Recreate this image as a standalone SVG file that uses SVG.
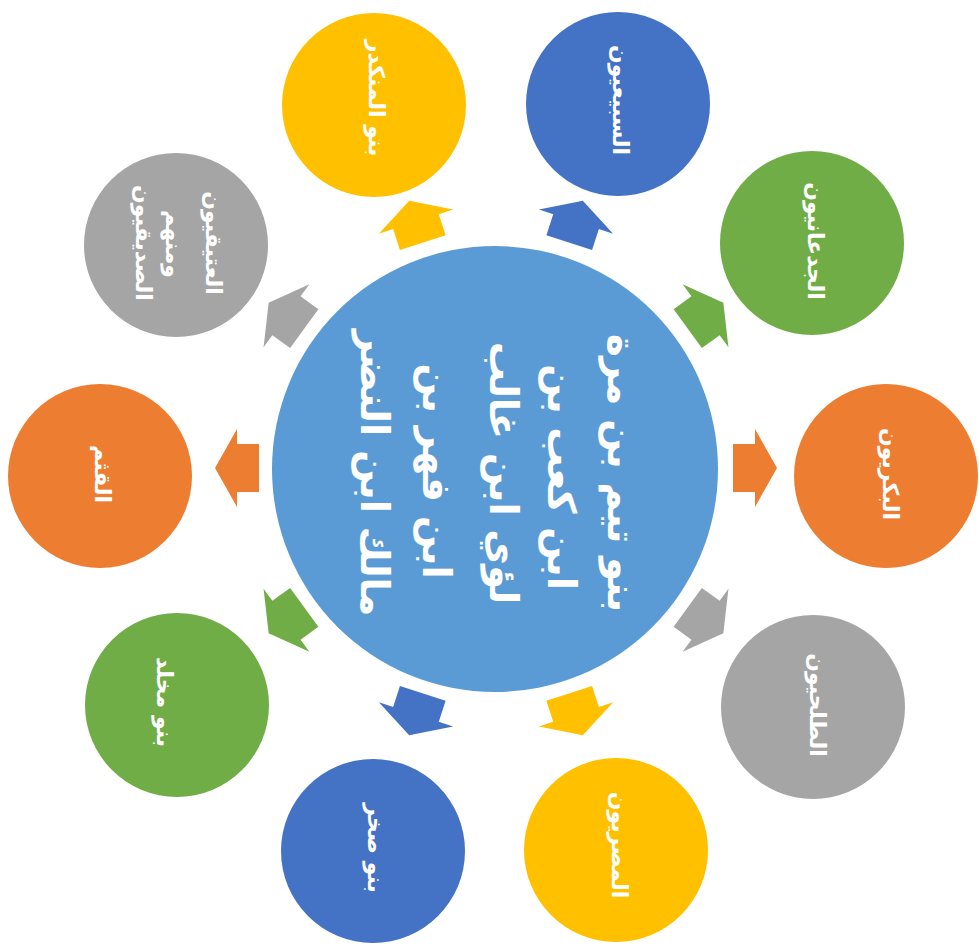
<svg xmlns="http://www.w3.org/2000/svg" width="979" height="946" viewBox="0 0 979 946">
<defs>
<style>
.t{font-family:"DejaVu Sans","Noto Sans",sans-serif;fill:#fff;text-anchor:middle;font-weight:bold}
.s{font-size:22px}
.c{font-size:39px}
.yel{fill:#FFC000}.blu{fill:#4472C4}.grn{fill:#70AD47}.org{fill:#ED7D31}.gry{fill:#A5A5A5}
</style>
<path id="arr" d="M237,-24 L259,-24 L259,-39 L281,0 L259,39 L259,24 L237,24 Z"/>
</defs>
<rect width="979" height="946" fill="#fff"/>
<g id="connectors">
<use href="#arr" class="org" transform="translate(496,468) rotate(0)"/>
<use href="#arr" class="gry" transform="translate(496,468) rotate(36)"/>
<use href="#arr" class="yel" transform="translate(496,468) rotate(72)"/>
<use href="#arr" class="blu" transform="translate(496,468) rotate(108)"/>
<use href="#arr" class="grn" transform="translate(496,468) rotate(144)"/>
<use href="#arr" class="org" transform="translate(496,468) rotate(180)"/>
<use href="#arr" class="gry" transform="translate(496,468) rotate(216)"/>
<use href="#arr" class="yel" transform="translate(496,468) rotate(252)"/>
<use href="#arr" class="blu" transform="translate(496,468) rotate(288)"/>
<use href="#arr" class="grn" transform="translate(496,468) rotate(324)"/>
</g>
<g id="center">
<circle cx="495" cy="469" r="223" fill="#5B9BD5"/>
<text class="t c" transform="translate(620,473) rotate(90)" dy="0.3em">بنو تيم بن مرة</text>
<text class="t c" transform="translate(560,477) rotate(90)" dy="0.3em">ابن كعب بن</text>
<text class="t c" transform="translate(502,473) rotate(90)" dy="0.3em">لؤي ابن غالب</text>
<text class="t c" transform="translate(435,471) rotate(90)" dy="0.3em">ابن فهر بن</text>
<text class="t c" transform="translate(373,473) rotate(90)" dy="0.3em">مالك ابن النضر</text>
</g>
<g id="n1">
<circle cx="374" cy="105" r="92" class="yel"/>
<text class="t s" transform="translate(376,98) rotate(90)" dy="0.3em">بنو المنكدر</text>
</g>
<g id="n2">
<circle cx="618" cy="104" r="92" class="blu"/>
<text class="t s" transform="translate(620,100) rotate(90)" dy="0.3em">السبيعيون</text>
</g>
<g id="n3">
<circle cx="812" cy="243" r="92" class="grn"/>
<text class="t s" transform="translate(815,241) rotate(90)" dy="0.3em">الجدعانيون</text>
</g>
<g id="n4">
<circle cx="886" cy="476" r="92" class="org"/>
<text class="t s" transform="translate(890,474) rotate(90)" dy="0.3em">البكريون</text>
</g>
<g id="n5">
<circle cx="813" cy="707" r="92" class="gry"/>
<text class="t s" transform="translate(817,705) rotate(90)" dy="0.3em">الطلحيون</text>
</g>
<g id="n6">
<circle cx="616" cy="850" r="92" class="yel"/>
<text class="t s" transform="translate(619,845) rotate(90)" dy="0.3em">المصريون</text>
</g>
<g id="n7">
<circle cx="373" cy="851" r="92" class="blu"/>
<text class="t s" transform="translate(375,848) rotate(90)" dy="0.3em">بنو صخر</text>
</g>
<g id="n8">
<circle cx="177" cy="705" r="92" class="grn"/>
<text class="t s" transform="translate(164,702) rotate(90)" dy="0.3em">بنو مخلد</text>
</g>
<g id="n9">
<circle cx="100" cy="476" r="92" class="org"/>
<text class="t s" transform="translate(102,474) rotate(90)" dy="0.3em">القثم</text>
</g>
<g id="n10">
<circle cx="176" cy="245" r="92" class="gry"/>
<text class="t s" transform="translate(213,243) rotate(90)" dy="0.3em">العتيقيون</text>
<text class="t s" transform="translate(173,244) rotate(90)" dy="0.3em">ومنهم</text>
<text class="t s" transform="translate(143,243) rotate(90)" dy="0.3em">الصديقيون</text>
</g>
</svg>
